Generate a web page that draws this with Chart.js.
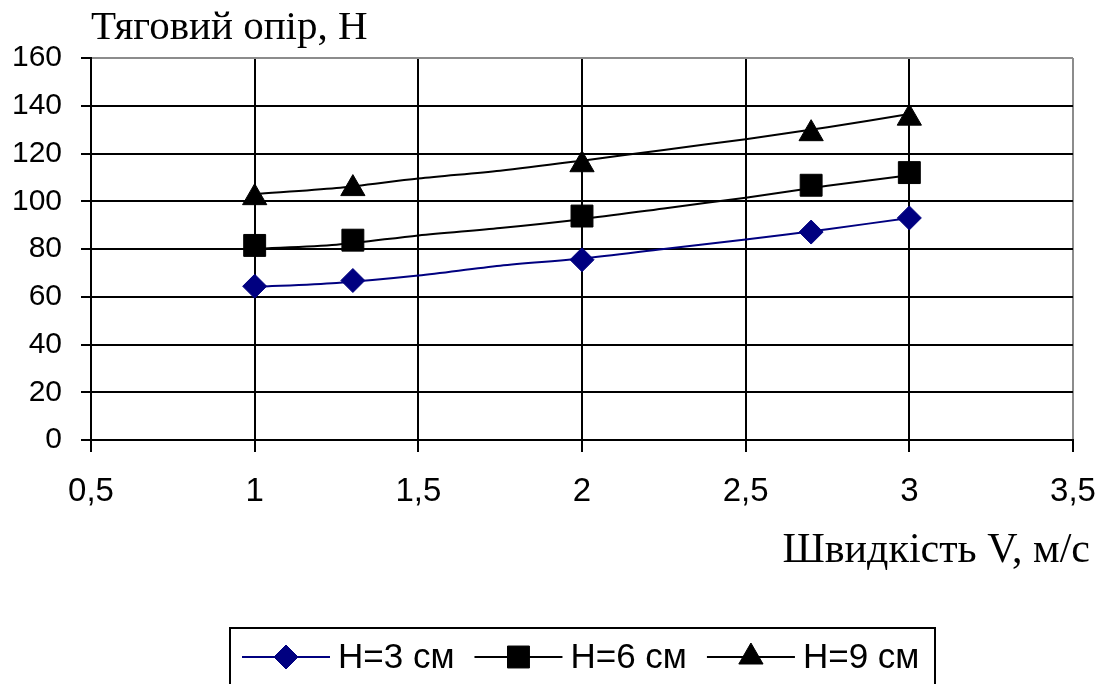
<!DOCTYPE html>
<html>
<head>
<meta charset="utf-8">
<script src="https://cdn.jsdelivr.net/npm/chart.js@4.4.1/dist/chart.umd.min.js"></script>
<style>
  html, body { margin: 0; padding: 0; background: #fff; }
</style>
</head>
<body>
<canvas id="myChart" width="1106" height="684"></canvas>
<script>
// measured points (speed, m/s)
const speeds = [1, 1.3, 2, 2.7, 3];
const h3 = [64.4, 66.8, 75.5, 87.1, 93];
const h6 = [81.5, 83.7, 93.8, 106.7, 112];
const h9 = [101.5, 105.3, 115.3, 128.3, 134.8];

// trend lines
const trendX = [1, 1.25, 1.5, 1.75, 2, 2.25, 2.5, 2.75, 3];
const trend3 = [64.1, 65.8, 68.9, 73, 76, 80, 84, 88.3, 93];
const trend6 = [80.1, 81.8, 85.7, 88.8, 92.5, 97, 101.5, 106.5, 110.9];
const trend9 = [103, 105.5, 109.5, 112.8, 117, 121.5, 126, 131, 136.5];

const seriesNames = ['H=3 см', 'H=6 см', 'H=9 см'];
const yTitle = 'Тяговий опір, Н';
const xTitle = 'Швидкість V, м/с';

const navy = '#000080';

function markerSet(label, values, color, style, r) {
    return {
        label: label,
        data: speeds.map((v, i) => ({ x: v, y: values[i] })),
        showLine: false,
        pointStyle: style,
        pointRadius: r,
        pointHoverRadius: r,
        pointBackgroundColor: color,
        pointBorderColor: color,
        pointBorderWidth: 1
    };
}

function trendSet(values, color) {
    return {
        label: '',
        data: trendX.map((v, i) => ({ x: v, y: values[i] })),
        showLine: true,
        borderColor: color,
        borderWidth: 2,
        pointRadius: 0,
        tension: 0.3,
        fill: false
    };
}

const legendStyles = [
    { color: navy, style: 'rectRot', r: 12 },
    { color: '#000', style: 'rect', r: 15.5 },
    { color: '#000', style: 'triangle', r: 14 }
];

const extras = {
    id: 'extras',
    afterDraw(chart) {
        const ctx = chart.ctx;
        const area = chart.chartArea;
        ctx.save();
        ctx.fillStyle = '#000';
        ctx.font = '42px "Liberation Serif"';
        ctx.textAlign = 'right';
        ctx.textBaseline = 'alphabetic';
        ctx.fillText(xTitle, area.right + 17, 562);

        // legend box
        ctx.strokeStyle = '#000';
        ctx.lineWidth = 2;
        ctx.strokeRect(230, 628, 705, 70);

        ctx.font = '35px "Liberation Sans"';
        ctx.textAlign = 'left';
        ctx.textBaseline = 'middle';
        let x = 242;
        const y = 657;
        seriesNames.forEach((name, i) => {
            const s = legendStyles[i];
            ctx.strokeStyle = s.color;
            ctx.fillStyle = s.color;
            ctx.lineWidth = 2;
            ctx.beginPath();
            ctx.moveTo(x, y);
            ctx.lineTo(x + 88, y);
            ctx.stroke();
            ctx.lineWidth = 1;
            Chart.helpers.drawPoint(ctx, { pointStyle: s.style, radius: s.r, rotation: 0, borderWidth: 1 }, x + 44, y);
            ctx.fillStyle = '#000';
            ctx.fillText(name, x + 96, y + 1);
            x += 96 + ctx.measureText(name).width + 20;
        });
        ctx.restore();
    }
};

const ctx = document.getElementById('myChart').getContext('2d');
const myChart = new Chart(ctx, {
    type: 'scatter',
    data: {
        datasets: [
            markerSet(seriesNames[0], h3, navy, 'rectRot', 12),
            markerSet(seriesNames[1], h6, '#000', 'rect', 15.5),
            markerSet(seriesNames[2], h9, '#000', 'triangle', 14),
            trendSet(trend3, navy),
            trendSet(trend6, '#000'),
            trendSet(trend9, '#000')
        ]
    },
    options: {
        responsive: false,
        animation: false,
        devicePixelRatio: 1,
        layout: { padding: { left: 0, right: 33, top: 0, bottom: 0 } },
        plugins: {
            legend: { display: false },
            tooltip: { enabled: false },
            title: {
                display: true,
                text: yTitle,
                align: 'start',
                fullSize: false,
                color: '#000',
                font: { family: 'Liberation Serif', size: 41, weight: 'normal' },
                padding: { top: 4, bottom: 4.8 }
            }
        },
        scales: {
            x: {
                type: 'linear',
                min: 0.5,
                max: 3.5,
                ticks: {
                    stepSize: 0.5,
                    color: '#000',
                    padding: 20,
                    font: { family: 'Liberation Sans', size: 33 },
                    callback: v => String(v).replace('.', ',')
                },
                grid: {
                    color: c => (c.tick && c.tick.value === 3.5) ? '#8c8c8c' : '#000',
                    tickColor: '#000',
                    lineWidth: 2,
                    tickLength: 12
                },
                border: { color: '#000', width: 2 },
                afterFit: s => { s.height = 244; s.paddingLeft = 0; s.paddingRight = 0; }
            },
            y: {
                min: 0,
                max: 160,
                ticks: {
                    stepSize: 20,
                    color: '#000',
                    padding: 19,
                    font: { family: 'Liberation Sans', size: 30 }
                },
                grid: {
                    color: c => (c.tick && c.tick.value === 160) ? '#8c8c8c' : '#000',
                    tickColor: '#000',
                    lineWidth: 2,
                    tickLength: 10
                },
                border: { color: '#000', width: 2 },
                afterFit: s => { s.width = 91; }
            }
        }
    },
    plugins: [extras]
});
</script>
</body>
</html>
